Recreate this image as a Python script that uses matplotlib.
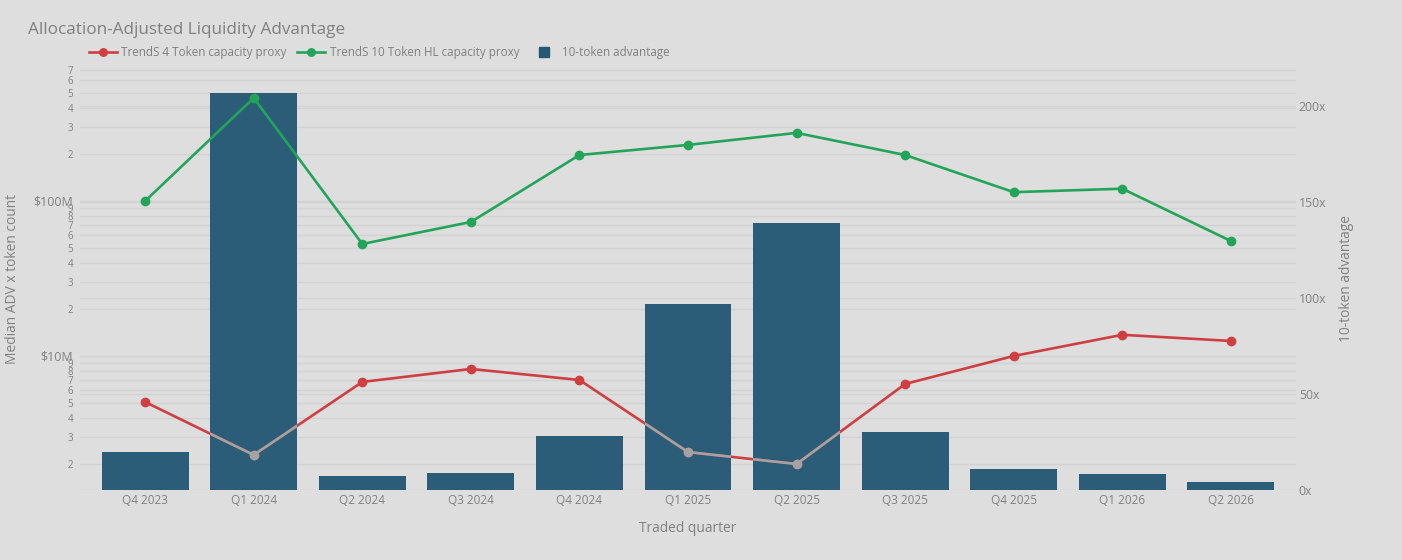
import matplotlib
matplotlib.use('Agg')
import matplotlib.pyplot as plt
from matplotlib.ticker import FixedLocator
from matplotlib.lines import Line2D

quarters = ['Q4 2023', 'Q1 2024', 'Q2 2024', 'Q3 2024', 'Q4 2024', 'Q1 2025',
            'Q2 2025', 'Q3 2025', 'Q4 2025', 'Q1 2026', 'Q2 2026']
proxy_4 = [5.05e6, 2.30e6, 6.8e6, 8.25e6, 7.0e6, 2.40e6, 2.01e6, 6.6e6, 10.0e6, 13.7e6, 12.5e6]
proxy_10 = [100e6, 462e6, 52.8e6, 73.2e6, 198e6, 230e6, 275e6, 198e6, 114e6, 120e6, 55.2e6]
advantage = [19.8, 206.8, 7.3, 8.9, 28.1, 96.9, 139.0, 30.2, 10.9, 8.3, 4.2]

bg = '#dedede'
txt = '#808080'
grid_c = '#d2d2d2'
red = '#cf3f41'
green = '#23a559'
bar_c = '#245874'

plt.rcParams['font.family'] = ['Open Sans', 'DejaVu Sans']

fig = plt.figure(figsize=(14.02, 5.6), dpi=100)
fig.patch.set_facecolor(bg)

W, H = 1402, 560
ax = fig.add_axes([80 / W, (H - 490) / H, (1296 - 80) / W, (490 - 68) / H])
ax2 = ax.twinx()
ax.set_zorder(ax2.get_zorder() + 1)
ax.patch.set_visible(False)
ax2.patch.set_facecolor(bg)

x = list(range(len(quarters)))
lo, hi = 1.366e6, 7.21e8

# bars on the right axis
bars = ax2.bar(x, advantage, width=0.8, color=bar_c, alpha=0.96, zorder=2)
ax2.set_ylim(0, 219.8)
ax2.set_yticks([0, 50, 100, 150, 200])
ax2.set_yticklabels(['0x', '50x', '100x', '150x', '200x'])
ax2.grid(axis='y', color=grid_c, linewidth=1, zorder=0)
ax2.set_axisbelow(True)
ax2.set_ylabel('10-token advantage', color=txt, fontsize=9.9)
ax2.yaxis.set_label_coords(1 + (1339 - 1296) / 1216, 0.5)

# lines on the left (log) axis
ax.set_yscale('log')
ax.plot(x, proxy_4, color=red, linewidth=1.9, marker='o', markersize=6,
        label='TrendS 4 Token capacity proxy', zorder=3)
ax.plot(x, proxy_10, color=green, linewidth=1.9, marker='o', markersize=6,
        label='TrendS 10 Token HL capacity proxy', zorder=4)
# red line looks grey where it crosses the bars
for b in bars:
    ln, = ax.plot(x, proxy_4, color='#a3a3a3', linewidth=1.9, marker='o',
                  markersize=6, zorder=3.5)
    ln.set_clip_path(b)

ax.set_xlim(-0.6, 10.6)
ax.set_ylim(lo, hi)

major = [1e7, 1e8]
minor = []
minor_lbl = []
for dec in [1e6, 1e7, 1e8]:
    for k in range(2, 10):
        v = k * dec
        if lo <= v <= hi:
            minor.append(v)
            minor_lbl.append(str(k))
ax.yaxis.set_major_locator(FixedLocator(major))
ax.set_yticklabels(['$10M', '$100M'])
ax.yaxis.set_minor_locator(FixedLocator(minor))
ax.set_yticks(minor, minor_lbl, minor=True)
# log grid drawn beneath the bars
ytr = ax.get_yaxis_transform()
for v in major + minor:
    ax2.plot([0, 1], [v, v], transform=ytr, color=grid_c, linewidth=1, zorder=0.5)
ax.tick_params(axis='y', which='major', labelsize=8.9, colors=txt, length=0, pad=5)
ax.tick_params(axis='y', which='minor', labelsize=7, colors=txt, length=0, pad=5)
ax.set_ylabel('Median ADV x token count', color=txt, fontsize=9.9)
ax.yaxis.set_label_coords(-(80 - 20) / 1216, 0.5)

ax.set_xticks(x)
ax.set_xticklabels(quarters)
ax.tick_params(axis='x', labelsize=8.5, colors=txt, length=0, pad=3)
ax.set_xlabel('Traded quarter', color=txt, fontsize=9.9, labelpad=10)
ax2.tick_params(axis='y', labelsize=8.8, colors=txt, length=0, pad=2)

for a in (ax, ax2):
    for s in a.spines.values():
        s.set_visible(False)

fig.text(28 / W, 1 - 30 / H, 'Allocation-Adjusted Liquidity Advantage',
         fontsize=12.3, color=txt, va='center', ha='left')

h1, l1 = ax.get_legend_handles_labels()
bar_handle = Line2D([], [], marker='s', color=bar_c, linestyle='none', markersize=8)
leg = fig.legend(h1 + [bar_handle], l1 + ['10-token advantage'], loc='center left',
                 bbox_to_anchor=(78 / W, 1 - 53 / H), ncol=3, frameon=False,
                 fontsize=8.4, labelcolor=txt, handlelength=2.4,
                 handletextpad=0.4, columnspacing=0.9, markerscale=0.9)

fig.savefig('out.png', dpi=100, facecolor=bg)
